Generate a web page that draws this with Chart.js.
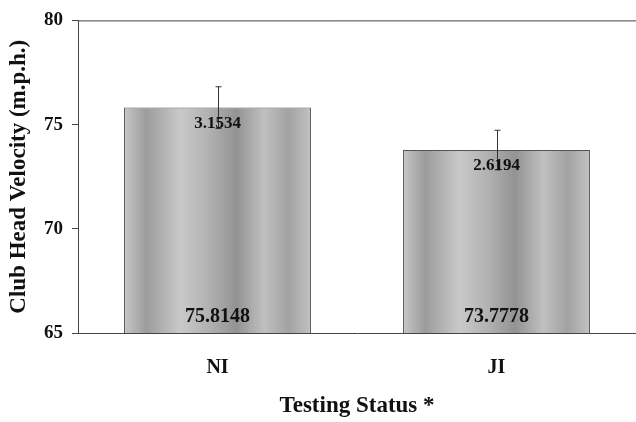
<!DOCTYPE html>
<html lang="en">
<head>
  <meta charset="UTF-8">
  <title>Club Head Velocity by Testing Status</title>
  <script src="https://cdn.jsdelivr.net/npm/chart.js"></script>
  <style>
    html, body { margin: 0; padding: 0; background: #fff; }
    #wrap { width: 636px; height: 422px; }
  </style>
</head>
<body>
  <div id="wrap"><canvas id="grafico" width="636" height="422"></canvas></div>

<script>
// dati
const categories = ['NI', 'JI'];
const means = [75.8148, 73.7778];
const errors = [1.0, 0.95];
const sdLabels = ['3.1534', '2.6194'];
const meanLabels = ['75.8148', '73.7778'];
const yTicks = [65, 70, 75, 80];

const FONT = '"Liberation Serif", "Times New Roman", serif';
const ink = '#111';

// grey bands across each bar, like the scanned texture
function barFill(ctx) {
  const chart = ctx.chart;
  const x = chart.scales && chart.scales.x;
  if (!chart.chartArea || !x) return '#b0b0b0';
  const c = x.getPixelForValue(ctx.dataIndex);
  const half = x.width / categories.length * 0.67 / 2;
  const g = chart.ctx.createLinearGradient(c - half, 0, c + half, 0);
  g.addColorStop(0, '#c6c6c6');
  g.addColorStop(0.12, '#9c9c9c');
  g.addColorStop(0.3, '#c9c9c9');
  g.addColorStop(0.45, '#b2b2b2');
  g.addColorStop(0.6, '#939393');
  g.addColorStop(0.75, '#c0c0c0');
  g.addColorStop(0.88, '#a2a2a2');
  g.addColorStop(1, '#c2c2c2');
  return g;
}

const extras = {
  id: 'extras',
  afterDatasetsDraw(chart) {
    const { ctx, chartArea, scales } = chart;
    const x = scales.x, y = scales.y;
    ctx.save();
    // top frame line
    ctx.strokeStyle = '#444';
    ctx.lineWidth = 1;
    ctx.beginPath();
    ctx.moveTo(chartArea.left, chartArea.top + 0.5);
    ctx.lineTo(chartArea.right, chartArea.top + 0.5);
    ctx.stroke();

    // error bars
    ctx.strokeStyle = '#333';
    means.forEach((m, i) => {
      const px = Math.round(x.getPixelForValue(i)) + 0.5;
      const top = y.getPixelForValue(m + errors[i]);
      const bot = y.getPixelForValue(m - errors[i]);
      ctx.beginPath();
      ctx.moveTo(px, top); ctx.lineTo(px, bot);
      ctx.moveTo(px - 3, top); ctx.lineTo(px + 3, top);
      ctx.moveTo(px - 3, bot); ctx.lineTo(px + 3, bot);
      ctx.stroke();
    });

    // value labels
    ctx.fillStyle = ink;
    ctx.textAlign = 'center';
    ctx.textBaseline = 'middle';
    means.forEach((m, i) => {
      const px = x.getPixelForValue(i);
      ctx.font = 'bold 17px ' + FONT;
      ctx.fillText(sdLabels[i], px, y.getPixelForValue(m) + 16);
      ctx.font = 'bold 20px ' + FONT;
      ctx.fillText(meanLabels[i], px, chartArea.bottom - 16);
    });
    ctx.restore();
  }
};

new Chart(document.getElementById('grafico'), {
  type: 'bar',
  data: {
    labels: categories,
    datasets: [{
      data: means,
      backgroundColor: barFill,
      borderColor: '#555',
      borderWidth: 1,
      borderSkipped: 'bottom',
      categoryPercentage: 1,
      barPercentage: 0.67
    }]
  },
  options: {
    responsive: false,
    animation: false,
    layout: { padding: { top: 14, right: 0, left: 0, bottom: 0 } },
    plugins: { legend: { display: false }, tooltip: { enabled: false } },
    scales: {
      x: {
        grid: { display: false },
        border: { display: true, color: '#444', width: 1 },
        ticks: { color: ink, padding: 15, font: { family: FONT, size: 20, weight: 'bold' } },
        title: {
          display: true,
          text: 'Testing Status *',
          color: ink,
          padding: { top: 0, bottom: 2 },
          font: { family: FONT, size: 23, weight: 'bold' }
        },
        afterFit: s => { s.height = 89; }
      },
      y: {
        min: 65,
        max: 80,
        afterBuildTicks: s => { s.ticks = yTicks.map(v => ({ value: v })); },
        grid: { drawOnChartArea: false, tickLength: 6, color: '#444' },
        border: { display: true, color: '#444', width: 1 },
        ticks: { color: ink, padding: 9, font: { family: FONT, size: 19, weight: 'bold' } },
        title: {
          display: true,
          text: 'Club Head Velocity (m.p.h.)',
          color: ink,
          padding: { top: 5, bottom: 0 },
          font: { family: FONT, size: 23, weight: 'bold' }
        },
        afterFit: s => { s.width = 78; }
      }
    }
  },
  plugins: [extras]
});
</script>
</body>
</html>
